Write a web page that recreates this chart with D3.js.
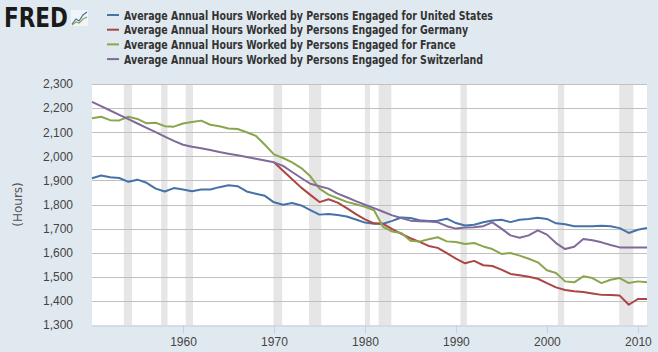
<!DOCTYPE html>
<html>
<head>
<meta charset="utf-8">
<script src="https://cdn.jsdelivr.net/npm/d3@7"></script>
<style>
  body { margin: 0; background: #e1e9f0; }
  svg { display: block; }
</style>
</head>
<body>
<div id="chart"></div>
<script>
const years = d3.range(1950, 2012);

const unitedStates = [1909, 1920, 1913, 1910, 1894, 1903, 1890, 1866, 1854, 1868,
  1862, 1855, 1862, 1862, 1872, 1880, 1876, 1854, 1845, 1836,
  1809, 1799, 1806, 1796, 1777, 1758, 1761, 1756, 1750, 1738,
  1725, 1720, 1720, 1732, 1746, 1744, 1735, 1732, 1733, 1741,
  1723, 1713, 1716, 1726, 1734, 1737, 1727, 1737, 1740, 1745,
  1740, 1722, 1718, 1710, 1710, 1710, 1712, 1710, 1702, 1682,
  1695, 1703];

// Germany starts in 1970
const germanyYears = d3.range(1970, 2012);
const germany = [1975, 1940, 1905, 1870, 1840, 1810, 1822, 1808, 1785, 1760,
  1738, 1722, 1720, 1698, 1678, 1660, 1645, 1628, 1620, 1598,
  1575, 1556, 1566, 1548, 1545, 1530, 1512, 1506, 1500, 1492,
  1474, 1456, 1445, 1440, 1437, 1431, 1425, 1424, 1422, 1384,
  1408, 1408];

const france = [2158, 2164, 2150, 2149, 2164, 2155, 2137, 2139, 2125, 2123,
  2136, 2142, 2148, 2131, 2125, 2115, 2113, 2100, 2085, 2048,
  2008, 1993, 1975, 1951, 1917, 1866, 1841, 1826, 1811, 1801,
  1790, 1776, 1707, 1688, 1682, 1650, 1646, 1656, 1664, 1647,
  1644, 1636, 1640, 1626, 1615, 1595, 1599, 1588, 1575, 1560,
  1527, 1516, 1481, 1477, 1502, 1495, 1474, 1488, 1495, 1474,
  1481, 1477];

const switzerland = [2226, 2208, 2190, 2172, 2154, 2136, 2118, 2100, 2082, 2064,
  2048, 2040, 2033, 2026, 2018, 2011, 2004, 1997, 1990, 1983,
  1975, 1960, 1935, 1910, 1886, 1876, 1866, 1845, 1830, 1814,
  1799, 1785, 1770, 1755, 1744, 1733, 1730, 1729, 1726, 1710,
  1700, 1705, 1706, 1710, 1726, 1700, 1672, 1662, 1672, 1693,
  1675, 1640, 1615, 1625, 1657, 1652, 1643, 1632, 1622, 1622,
  1622, 1622];

// NBER recessions (decimal years)
const recessions = [[1953.5, 1954.4], [1957.6, 1958.3], [1960.3, 1961.1],
  [1969.95, 1970.9], [1973.85, 1975.2], [1980.0, 1980.55], [1981.5, 1982.9],
  [1990.5, 1991.2], [2001.2, 2001.9], [2007.95, 2009.5]];

const yTicks = d3.range(1300, 2301, 100);
const xTicks = [1960, 1970, 1980, 1990, 2000, 2010];

const series = [
  { name: "Average Annual Hours Worked by Persons Engaged for United States", color: "#4572a7", x: years, y: unitedStates },
  { name: "Average Annual Hours Worked by Persons Engaged for Germany", color: "#aa4643", x: germanyYears, y: germany },
  { name: "Average Annual Hours Worked by Persons Engaged for France", color: "#89a54e", x: years, y: france },
  { name: "Average Annual Hours Worked by Persons Engaged for Switzerland", color: "#80699b", x: years, y: switzerland }
];

const width = 658, height = 352;
const margin = { top: 84, right: 11, bottom: 27, left: 92 };

const svg = d3.select("#chart").append("svg")
  .attr("width", width)
  .attr("height", height)
  .style("font-family", "'DejaVu Sans', Verdana, sans-serif");

svg.append("rect").attr("width", width).attr("height", height).attr("fill", "#e1e9f0");

const x = d3.scaleLinear().domain([1950, 2011]).range([margin.left, width - margin.right]);
const y = d3.scaleLinear().domain([1300, 2300]).range([height - margin.bottom, margin.top]);

// plot background
svg.append("rect")
  .attr("x", x(1950)).attr("y", y(2300))
  .attr("width", x(2011) - x(1950)).attr("height", y(1300) - y(2300))
  .attr("fill", "#fff");

// recession bars
svg.append("g").selectAll("rect")
  .data(recessions)
  .join("rect")
  .attr("x", d => x(d[0]))
  .attr("y", y(2300))
  .attr("width", d => x(d[1]) - x(d[0]))
  .attr("height", y(1300) - y(2300))
  .attr("fill", "#e6e6e6");

// grid
svg.append("g").selectAll("line")
  .data(yTicks.slice(1))
  .join("line")
  .attr("x1", x(1950)).attr("x2", x(2011))
  .attr("y1", d => Math.round(y(d)) + 0.5).attr("y2", d => Math.round(y(d)) + 0.5)
  .attr("stroke", "#c0c0c0");

// y axis
const yAxis = svg.append("g")
  .attr("transform", `translate(${x(1950) - 16},0)`)
  .call(d3.axisLeft(y).tickValues(yTicks).tickFormat(d3.format(",")).tickSize(0));
yAxis.select(".domain").remove();
yAxis.selectAll("text").attr("fill", "#444").style("font-size", "12px");

// x axis
const xAxis = svg.append("g")
  .attr("transform", `translate(0,${Math.round(y(1300)) + 0.5})`)
  .call(d3.axisBottom(x).tickValues(xTicks).tickFormat(d3.format("d")).tickSize(8).tickSizeOuter(0).tickPadding(4));
xAxis.select(".domain").attr("stroke", "#c0d0e0");
xAxis.selectAll(".tick line").attr("stroke", "#c0d0e0");
xAxis.selectAll("text").attr("fill", "#444").style("font-size", "12px");

svg.append("text")
  .attr("transform", `translate(18,${(y(1300) + y(2300)) / 2}) rotate(-90)`)
  .attr("text-anchor", "middle")
  .attr("dominant-baseline", "central")
  .attr("fill", "#555")
  .style("font-size", "12px")
  .text("(Hours)");

// lines
const line = d3.line().x(d => x(d[0])).y(d => y(d[1]));
svg.append("g").selectAll("path")
  .data(series)
  .join("path")
  .attr("d", s => line(s.x.map((yr, i) => [yr, s.y[i]])))
  .attr("fill", "none")
  .attr("stroke", s => s.color)
  .attr("stroke-width", 2)
  .attr("stroke-linejoin", "round");

// legend
const legend = svg.append("g");
const rows = legend.selectAll("g")
  .data(series)
  .join("g")
  .attr("transform", (d, i) => `translate(0,${15 + i * 14.7})`);
rows.append("line")
  .attr("x1", 107).attr("x2", 119)
  .attr("stroke", d => d.color).attr("stroke-width", 2);
const labels = rows.append("text")
  .attr("x", 124)
  .attr("dominant-baseline", "central")
  .attr("fill", "#333")
  .style("font-size", "12.5px")
  .style("font-weight", "bold")
  .text(d => d.name);
const k = 369 / labels.nodes()[0].getComputedTextLength();
labels.each(function () {
  const w = this.getComputedTextLength();
  d3.select(this).attr("textLength", w * k).attr("lengthAdjust", "spacingAndGlyphs");
});

// FRED logo
svg.append("text")
  .attr("x", 4).attr("y", 27)
  .attr("fill", "#1a1a1a")
  .style("font-family", "'DejaVu Sans', sans-serif")
  .style("font-size", "26px")
  .style("font-weight", "bold")
  .attr("textLength", 64)
  .attr("lengthAdjust", "spacingAndGlyphs")
  .text("FRED");
const icon = svg.append("g").attr("transform", "translate(71,10)");
icon.append("rect").attr("width", 17).attr("height", 16).attr("fill", "#f2f5f8");
icon.append("path").attr("d", "M1,14 L5,9 L8,11 L12,5 L16,2")
  .attr("fill", "none").attr("stroke", "#4572a7").attr("stroke-width", 1.2);
icon.append("path").attr("d", "M1,15 L5,12 L8,13 L12,9 L16,7")
  .attr("fill", "none").attr("stroke", "#89a54e").attr("stroke-width", 1.2);
</script>
</body>
</html>
